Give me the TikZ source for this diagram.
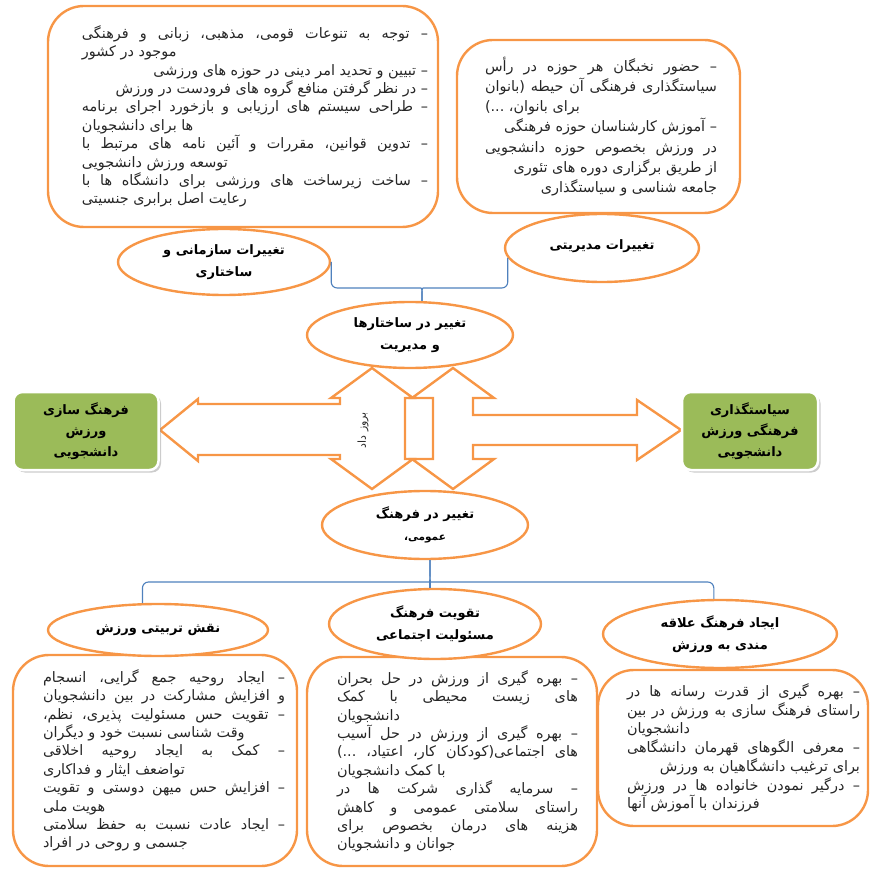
\documentclass[tikz,border=0pt]{standalone}
\usepackage{fontspec}
\usetikzlibrary{shapes.geometric,shadows,calc}
\newfontfamily\fa[Script=Arabic]{DejaVu Sans}
\TeXXeTstate=1
\definecolor{orng}{RGB}{247,150,70}
\definecolor{leaf}{RGB}{155,187,89}
\definecolor{linkblue}{RGB}{79,129,189}
\definecolor{ink}{RGB}{38,38,38}

% one line of a note: justified, flush left, flush right
\newcommand{\fullln}[1]{\hbox to\hsize{\beginR#1\endR}}
\newcommand{\leftln}[1]{\hbox to\hsize{\beginR#1\endR\hfil}}
\newcommand{\rightln}[1]{\hbox to\hsize{\hfil\beginR#1\endR}}
% width, shift to the right (twice), lines
\newcommand{\notes}[3]{\hbox{\hskip#2pt\vbox{\hsize=#1pt #3}}}
\newcommand{\rtl}[1]{\beginR#1\endR}

\tikzset{
  notebox/.style={draw=orng, line width=2.4pt, rounded corners=36pt, inner sep=0pt, text=ink,
    font=\fa\fontsize{14.4}{18.4}\selectfont},
  oval/.style={ellipse, draw=orng, line width=2.4pt, fill=white, inner sep=0pt, align=center,
    text=black, font=\fa\bfseries\fontsize{13}{22}\selectfont},
  goal/.style={rectangle, rounded corners=9pt, fill=leaf, draw=white, line width=2.5pt,
    drop shadow={shadow xshift=2.5pt, shadow yshift=-2.5pt, fill=black!40}, align=center,
    text=black, font=\fa\bfseries\fontsize{13}{21}\selectfont},
  bigarrow/.style={draw=orng, line width=2.4pt, line join=miter},
  link/.style={draw=linkblue, line width=1.1pt}
}

\begin{document}
\begin{tikzpicture}[x=1pt,y=-1pt]
\useasboundingbox (0,0) rectangle (871,869);

%notes
\node[notebox, minimum width=390, minimum height=221] (orgbox) at (243,116.5) {\notes{346}{24}{%
\fullln{– توجه به تنوعات قومی، مذهبی، زبانی و فرهنگی}
\leftln{موجود در کشور}
\rightln{– تبیین و تحدید امر دینی در حوزه های ورزشی}
\rightln{– در نظر گرفتن منافع گروه های فرودست در ورزش}
\fullln{– طراحی سیستم های ارزیابی و بازخورد اجرای برنامه}
\leftln{ها برای دانشجویان}
\fullln{– تدوین قوانین، مقررات و آئین نامه های مرتبط با}
\leftln{توسعه ورزش دانشجویی}
\fullln{– ساخت زیرساخت های ورزشی برای دانشگاه ها با}
\leftln{رعایت اصل برابری جنسیتی}}};
\node[notebox, minimum width=283, minimum height=173, font=\fa\fontsize{14.4}{20.3}\selectfont] (mgmtbox) at (598.5,126.5) {\notes{232}{5}{%
\fullln{– حضور نخبگان هر حوزه در رأس}
\fullln{سیاستگذاری فرهنگی آن حیطه (بانوان}
\leftln{برای بانوان، ...)}
\rightln{– آموزش کارشناسان حوزه فرهنگی}
\fullln{در ورزش بخصوص حوزه دانشجویی}
\rightln{از طریق برگزاری دوره های تئوری}
\rightln{جامعه شناسی و سیاستگذاری}}};
\node[notebox, minimum width=284, minimum height=211] (edubox) at (155,760.5) {\notes{242}{18}{%
\fullln{– ایجاد روحیه جمع گرایی، انسجام}
\fullln{و افزایش مشارکت در بین دانشجویان}
\fullln{– تقویت حس مسئولیت پذیری، نظم،}
\leftln{وقت شناسی نسبت خود و دیگران}
\fullln{– کمک به ایجاد روحیه اخلاقی}
\leftln{تواضعف ایثار و فداکاری}
\fullln{– افزایش حس میهن دوستی و تقویت}
\leftln{هویت ملی}
\fullln{– ایجاد عادت نسبت به حفظ سلامتی}
\leftln{جسمی و روحی در افراد}}};
\node[notebox, minimum width=290, minimum height=209] (socbox) at (452,761.5) {\notes{241}{11}{%
\fullln{– بهره گیری از ورزش در حل بحران}
\fullln{های زیست محیطی با کمک}
\leftln{دانشجویان}
\fullln{– بهره گیری از ورزش در حل آسیب}
\fullln{های اجتماعی(کودکان کار، اعتیاد، ...)}
\leftln{با کمک دانشجویان}
\fullln{– سرمایه گذاری شرکت ها در}
\fullln{راستای سلامتی عمومی و کاهش}
\fullln{هزینه های درمان بخصوص برای}
\leftln{جوانان و دانشجویان}}};
\node[notebox, minimum width=270, minimum height=156, font=\fa\fontsize{14.4}{18.7}\selectfont] (lovebox) at (733,748) {\notes{233}{21}{%
\fullln{– بهره گیری از قدرت رسانه ها در}
\fullln{راستای فرهنگ سازی به ورزش در بین}
\leftln{دانشجویان}
\fullln{– معرفی الگوهای قهرمان دانشگاهی}
\rightln{برای ترغیب دانشگاهیان به ورزش}
\fullln{– درگیر نمودن خانواده ها در ورزش}
\leftln{فرزندان با آموزش آنها}}};

%ovals
\node[oval, minimum width=212, minimum height=66] (orgchg) at (224,262) {\rtl{تغییرات سازمانی و}\\\rtl{ساختاری}};
\node[oval, minimum width=194, minimum height=68] (mgmtchg) at (602,248) {\raisebox{7pt}{\rtl{تغییرات مدیریتی}}};
\node[oval, minimum width=206, minimum height=66] (structchg) at (410,335) {\rtl{تغییر در ساختارها}\\\rtl{و مدیریت}};
\node[oval, minimum width=206, minimum height=68] (culture) at (425,525) {\rtl{تغییر در فرهنگ}\\{\fontsize{10.5}{12}\selectfont\rtl{عمومی،}}};
\node[oval, minimum width=220, minimum height=52] (edurole) at (158,630) {\rtl{نقش تربیتی ورزش}};
\node[oval, minimum width=212, minimum height=70] (social) at (435,624) {\rtl{تقویت فرهنگ}\\\rtl{مسئولیت اجتماعی}};
\node[oval, minimum width=234, minimum height=68] (love) at (720,634) {\rtl{ایجاد فرهنگ علاقه}\\\rtl{مندی به ورزش}};

%braces
\coordinate (topbar) at (422,288);
\coordinate (botbar) at (430,582);
\draw[link] (orgchg.east) [rounded corners=6pt] |- ($(topbar)+(-7,0)$) [sharp corners] .. controls (topbar) .. (structchg.north -| topbar);
\draw[link] (mgmtchg.186) [rounded corners=6pt] |- ($(topbar)+(7,0)$) [sharp corners] .. controls (topbar) .. (structchg.north -| topbar);
\draw[link] (edurole.120) [rounded corners=6pt] |- ($(botbar)+(-7,0)$) [sharp corners] .. controls (botbar) .. (culture.south -| botbar);
\draw[link] (love.100) [rounded corners=6pt] |- ($(botbar)+(7,0)$) [sharp corners] .. controls (botbar) .. (culture.south -| botbar);
\draw[link] (botbar) -- (social.north -| botbar);

%big arrows
\draw[bigarrow] (372,368) -- (413,398) -- (405,398) -- (405,459) -- (413,459) -- (372,489) -- (331,459) -- (340,459)
  -- (340,455) -- (198,455) -- (198,461) -- (160,430) -- (198,399) -- (198,404) -- (340,404) -- (340,398) -- (331,398) -- cycle;
\draw[bigarrow] (453,368) -- (494,398) -- (473,398) -- (473,415) -- (637,415) -- (637,400) -- (681,430) -- (637,460)
  -- (637,445) -- (473,445) -- (473,459) -- (494,459) -- (453,489) -- (412,459) -- (433,459) -- (433,398) -- (412,398) -- cycle;
\node[rotate=90, text=ink, font=\fa\fontsize{11}{13}\selectfont] (outlbl) at (363,430) {\rtl{بروز داد}};

%goals
\node[goal, minimum width=145, minimum height=78] (leftgoal) at (86,431) {\rtl{فرهنگ سازی}\\\rtl{ورزش}\\\rtl{دانشجویی}};
\node[goal, minimum width=136, minimum height=78] (rightgoal) at (750,431) {\rtl{سیاستگذاری}\\\rtl{فرهنگی ورزش}\\\rtl{دانشجویی}};
\end{tikzpicture}
\end{document}
